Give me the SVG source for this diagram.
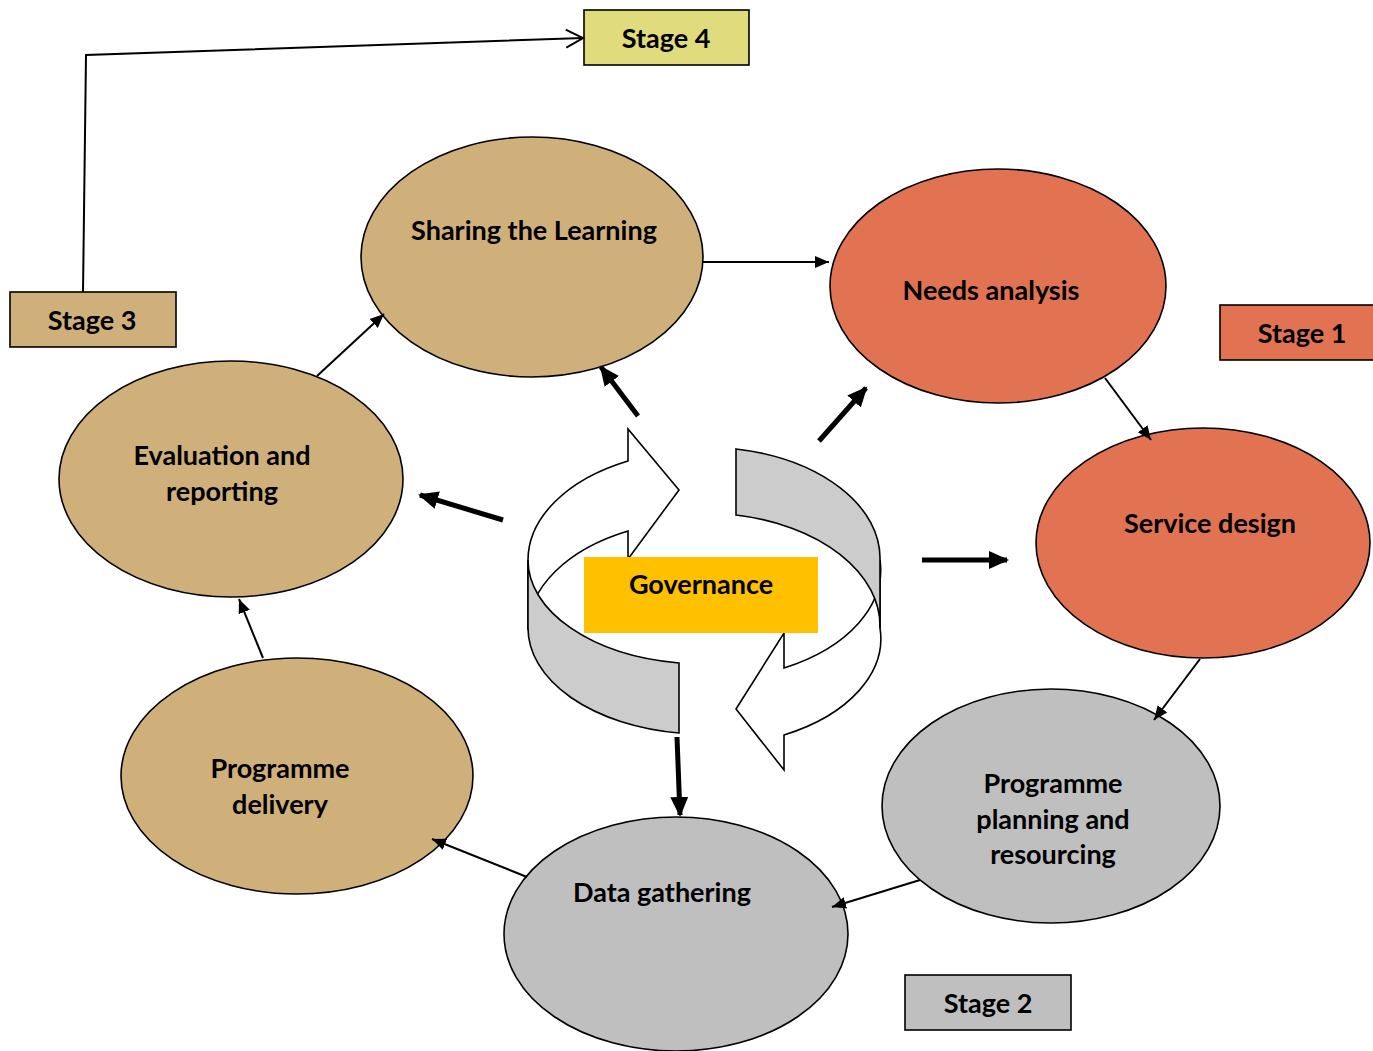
<svg xmlns="http://www.w3.org/2000/svg" width="1373" height="1051" viewBox="0 0 1373 1051">
  <defs>
    <style>
      .node { stroke: #000; stroke-width: 1.6; }
      .tan { fill: #D0B07A; }
      .orange { fill: #E17352; }
      .grey { fill: #BFBFBF; }
      .label { font-family: Lato, "Liberation Sans", sans-serif; font-weight: bold; font-size: 27px; fill: #000; text-anchor: middle; }
      .thin { stroke: #000; stroke-width: 2; fill: none; marker-end: url(#head-thin); }
      .thick { stroke: #000; stroke-width: 5; fill: none; marker-end: url(#head-thick); }
      .ribbon { stroke: #000; stroke-width: 1.6; stroke-linejoin: miter; }
    </style>
    <marker id="head-thin" markerUnits="userSpaceOnUse" markerWidth="16" markerHeight="14" refX="14" refY="7" orient="auto">
      <path d="M0,1 L14,7 L0,13 Z" fill="#000"/>
    </marker>
    <marker id="head-thick" markerUnits="userSpaceOnUse" markerWidth="22" markerHeight="20" refX="18" refY="10" orient="auto">
      <path d="M0,1 L20,10 L0,19 Z" fill="#000"/>
    </marker>
    <marker id="head-open" markerUnits="userSpaceOnUse" markerWidth="22" markerHeight="22" refX="19" refY="11" orient="auto">
      <path d="M2,2 L19,11 L2,20" fill="none" stroke="#000" stroke-width="2"/>
    </marker>
  </defs>

  <!-- central circular arrows -->
  <g id="cycle-arrows">
    <path class="ribbon" fill="#FFFFFF" d="M528,560 A176,110 0 0 1 628,461 L628,429 L679,490 L628,559 L628,531 A176,110 0 0 0 528,630 Z"/>
    <path class="ribbon" fill="#CCCCCC" d="M528,560 L528,628 A176,106 0 0 0 679,733 L679,663 A176,104 0 0 1 528,560 Z"/>
    <path class="ribbon" fill="#FFFFFF" d="M880,560 L880,628 A176,108 0 0 1 784,735 L784,770 L736,709 L784,633 L784,668 A176,110 0 0 0 880,560 Z"/>
    <path class="ribbon" fill="#CCCCCC" d="M736,449 A176,111 0 0 1 880,560 L880,628 A176,113 0 0 0 736,515 Z"/>
  </g>

  <g id="governance">
    <rect x="584" y="557" width="234" height="76" fill="#FFC000"/>
    <text class="label" x="701" y="594">Governance</text>
  </g>

  <g id="sharing-the-learning">
    <ellipse class="node tan" cx="532" cy="257" rx="171" ry="120"/>
    <text class="label" x="534" y="240">Sharing the Learning</text>
  </g>

  <g id="needs-analysis">
    <ellipse class="node orange" cx="998" cy="286" rx="168" ry="117"/>
    <text class="label" x="991" y="300">Needs analysis</text>
  </g>

  <g id="service-design">
    <ellipse class="node orange" cx="1203" cy="543" rx="167" ry="115"/>
    <text class="label" x="1210" y="533">Service design</text>
  </g>

  <g id="programme-planning">
    <ellipse class="node grey" cx="1051" cy="806" rx="169" ry="117"/>
    <text class="label" x="1053" y="793">Programme</text>
    <text class="label" x="1053" y="829">planning and</text>
    <text class="label" x="1053" y="864">resourcing</text>
  </g>

  <g id="data-gathering">
    <ellipse class="node grey" cx="676" cy="934" rx="172" ry="117"/>
    <text class="label" x="662" y="902">Data gathering</text>
  </g>

  <g id="programme-delivery">
    <ellipse class="node tan" cx="297" cy="776" rx="176" ry="118"/>
    <text class="label" x="280" y="778">Programme</text>
    <text class="label" x="280" y="814">delivery</text>
  </g>

  <g id="evaluation-reporting">
    <ellipse class="node tan" cx="231" cy="479" rx="172" ry="118"/>
    <text class="label" x="222" y="465">Evaluation and</text>
    <text class="label" x="222" y="501">reporting</text>
  </g>

  <g id="stage-4">
    <rect class="node" x="584" y="10" width="165" height="55" fill="#E0DC7E"/>
    <text class="label" x="666" y="48">Stage 4</text>
  </g>

  <g id="stage-3">
    <rect class="node tan" x="10" y="292" width="166" height="55"/>
    <text class="label" x="92" y="330">Stage 3</text>
  </g>

  <g id="stage-1">
    <rect class="node orange" x="1220" y="305" width="156" height="55"/>
    <text class="label" x="1302" y="343">Stage 1</text>
  </g>

  <g id="stage-2">
    <rect class="node grey" x="905" y="975" width="166" height="55"/>
    <text class="label" x="988" y="1013">Stage 2</text>
  </g>

  <!-- connectors -->
  <g id="connectors">
    <polyline points="83,292 86,55 583,38" fill="none" stroke="#000" stroke-width="2" marker-end="url(#head-open)"/>
    <line class="thin" x1="703" y1="262" x2="829" y2="262"/>
    <line class="thin" x1="1105" y1="378" x2="1151" y2="440"/>
    <line class="thin" x1="1200" y1="659" x2="1154" y2="720"/>
    <line class="thin" x1="920" y1="880" x2="832" y2="907"/>
    <line class="thin" x1="527" y1="877" x2="432" y2="839"/>
    <line class="thin" x1="263" y1="658" x2="239" y2="599"/>
    <line class="thin" x1="317" y1="376" x2="384" y2="314"/>
    <line class="thick" x1="638" y1="416" x2="601" y2="367"/>
    <line class="thick" x1="503" y1="520" x2="420" y2="495"/>
    <line class="thick" x1="819" y1="441" x2="866" y2="388"/>
    <line class="thick" x1="922" y1="560" x2="1007" y2="560"/>
    <line class="thick" x1="677" y1="737" x2="680" y2="815"/>
  </g>
</svg>
